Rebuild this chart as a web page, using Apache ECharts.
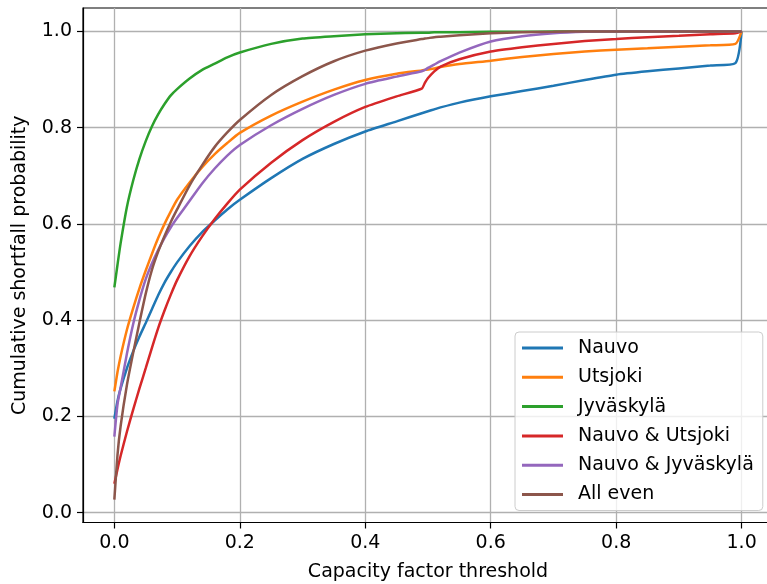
<!DOCTYPE html>
<html>
<head>
<meta charset="utf-8">
<script src="https://cdn.jsdelivr.net/npm/echarts@6/dist/echarts.min.js"></script>
<style>
html,body{margin:0;padding:0;background:#fff;}
#chart{width:767px;height:584px;}
</style>
</head>
<body>
<div id="chart"></div>
<script>
const thresholds = [0, 0.005, 0.01, 0.02, 0.03, 0.04, 0.05, 0.06, 0.07, 0.08, 0.09, 0.1, 0.12, 0.14, 0.16, 0.18, 0.2, 0.25, 0.3, 0.35, 0.4, 0.45, 0.49, 0.495, 0.5, 0.51, 0.52, 0.55, 0.6, 0.65, 0.7, 0.75, 0.8, 0.85, 0.9, 0.95, 0.99, 1.0];

const nauvo = [0.195, 0.232, 0.258, 0.300, 0.335, 0.366, 0.394, 0.423, 0.452, 0.478, 0.500, 0.520, 0.554, 0.583, 0.607, 0.630, 0.650, 0.695, 0.735, 0.766, 0.792, 0.813, 0.830, 0.832, 0.834, 0.838, 0.842, 0.852, 0.865, 0.876, 0.887, 0.899, 0.910, 0.917, 0.923, 0.929, 0.934, 1.0];

const utsjoki = [0.252, 0.292, 0.325, 0.380, 0.425, 0.466, 0.503, 0.538, 0.571, 0.600, 0.626, 0.650, 0.686, 0.718, 0.745, 0.768, 0.789, 0.825, 0.854, 0.879, 0.899, 0.912, 0.919, 0.920, 0.921, 0.923, 0.926, 0.932, 0.939, 0.947, 0.953, 0.958, 0.962, 0.965, 0.968, 0.971, 0.974, 1.0];

const jyvaskyla = [0.468, 0.515, 0.560, 0.635, 0.690, 0.735, 0.772, 0.803, 0.828, 0.849, 0.867, 0.880, 0.902, 0.920, 0.933, 0.946, 0.956, 0.974, 0.985, 0.990, 0.994, 0.996, 0.997, 0.997, 0.997, 0.998, 0.998, 0.998, 0.999, 0.999, 1.0, 1.0, 1.0, 1.0, 1.0, 1.0, 1.0, 1.0];

const nauvoUtsjoki = [0.060, 0.090, 0.118, 0.168, 0.214, 0.258, 0.300, 0.343, 0.384, 0.420, 0.453, 0.483, 0.533, 0.574, 0.610, 0.642, 0.671, 0.727, 0.774, 0.812, 0.843, 0.865, 0.881, 0.893, 0.903, 0.917, 0.927, 0.942, 0.958, 0.967, 0.974, 0.980, 0.984, 0.988, 0.991, 0.994, 0.996, 1.0];

const nauvoJyvaskyla = [0.158, 0.225, 0.260, 0.330, 0.392, 0.442, 0.485, 0.518, 0.546, 0.571, 0.593, 0.612, 0.648, 0.684, 0.715, 0.742, 0.764, 0.805, 0.839, 0.868, 0.891, 0.906, 0.917, 0.920, 0.924, 0.931, 0.938, 0.956, 0.979, 0.990, 0.996, 0.999, 1.0, 1.0, 1.0, 1.0, 1.0, 1.0];

const allEven = [0.027, 0.120, 0.180, 0.265, 0.332, 0.395, 0.455, 0.505, 0.543, 0.575, 0.604, 0.630, 0.680, 0.722, 0.760, 0.790, 0.816, 0.868, 0.907, 0.938, 0.960, 0.975, 0.984, 0.985, 0.986, 0.988, 0.989, 0.992, 0.996, 0.998, 0.999, 1.0, 1.0, 1.0, 1.0, 1.0, 1.0, 1.0];

const seriesNames = ['Nauvo', 'Utsjoki', 'Jyväskylä', 'Nauvo & Utsjoki', 'Nauvo & Jyväskylä', 'All even'];
const seriesValues = [nauvo, utsjoki, jyvaskyla, nauvoUtsjoki, nauvoJyvaskyla, allEven];
const colors = ['#1f77b4', '#ff7f0e', '#2ca02c', '#d62728', '#9467bd', '#8c564b'];

const xTicks = [0, 0.2, 0.4, 0.6, 0.8, 1.0];
const yTicks = [0, 0.2, 0.4, 0.6, 0.8, 1.0];

const FONT = 'DejaVu Sans';
const FS = 19;

const chart = echarts.init(document.getElementById('chart'), null, {renderer: 'canvas'});

const series = seriesNames.map((name, i) => ({
  name: name,
  type: 'line',
  data: thresholds.map((x, j) => [x, seriesValues[i][j]]),
  showSymbol: false,
  symbol: 'none',
  smooth: 0.2,
  lineStyle: {color: colors[i], width: 2.5},
  itemStyle: {color: colors[i]},
  clip: true,
  animation: false
}));

chart.setOption({
  animation: false,
  backgroundColor: '#ffffff',
  grid: {
    left: 83, top: 8, width: 690, bottom: 61.5,
    outerBoundsMode: 'none', containLabel: false,
    show: true, borderColor: '#000', borderWidth: 1.2, backgroundColor: 'transparent'
  },
  xAxis: {
    type: 'value', min: -0.05, max: 1.05,
    name: 'Capacity factor threshold', nameLocation: 'middle', nameGap: 40,
    nameTextStyle: {fontFamily: FONT, fontSize: FS, color: '#000'},
    axisLine: {show: true, onZero: false, lineStyle: {color: '#000', width: 1.2}},
    axisTick: {show: true, length: 6, lineStyle: {color: '#000', width: 1.2}, customValues: xTicks},
    axisLabel: {customValues: xTicks, fontFamily: FONT, fontSize: FS, color: '#000', margin: 11,
      formatter: v => v.toFixed(1)},
    splitLine: {show: true, lineStyle: {color: '#b0b0b0', width: 1.3}}
  },
  yAxis: {
    type: 'value', min: -0.0206, max: 1.0486,
    name: 'Cumulative shortfall probability', nameLocation: 'middle', nameGap: 53,
    nameTextStyle: {fontFamily: FONT, fontSize: FS, color: '#000'},
    axisLine: {show: true, onZero: false, lineStyle: {color: '#000', width: 1.2}},
    axisTick: {show: true, length: 6, lineStyle: {color: '#000', width: 1.2}, customValues: yTicks},
    axisLabel: {customValues: yTicks, fontFamily: FONT, fontSize: FS, color: '#000', margin: 11,
      formatter: v => v.toFixed(1)},
    splitLine: {show: true, lineStyle: {color: '#b0b0b0', width: 1.3}}
  },
  legend: {
    orient: 'vertical', left: 515, top: 332,
    data: seriesNames,
    icon: 'rect', itemWidth: 41, itemHeight: 3, itemGap: 9.3,
    padding: [6, 9, 6, 7],
    backgroundColor: 'rgba(255,255,255,0.8)', borderColor: '#cccccc', borderWidth: 1, borderRadius: 4,
    textStyle: {fontFamily: FONT, fontSize: FS, color: '#000', lineHeight: 20, padding: [0, 0, 0, 10]}
  },
  series: series
});
</script>
</body>
</html>
